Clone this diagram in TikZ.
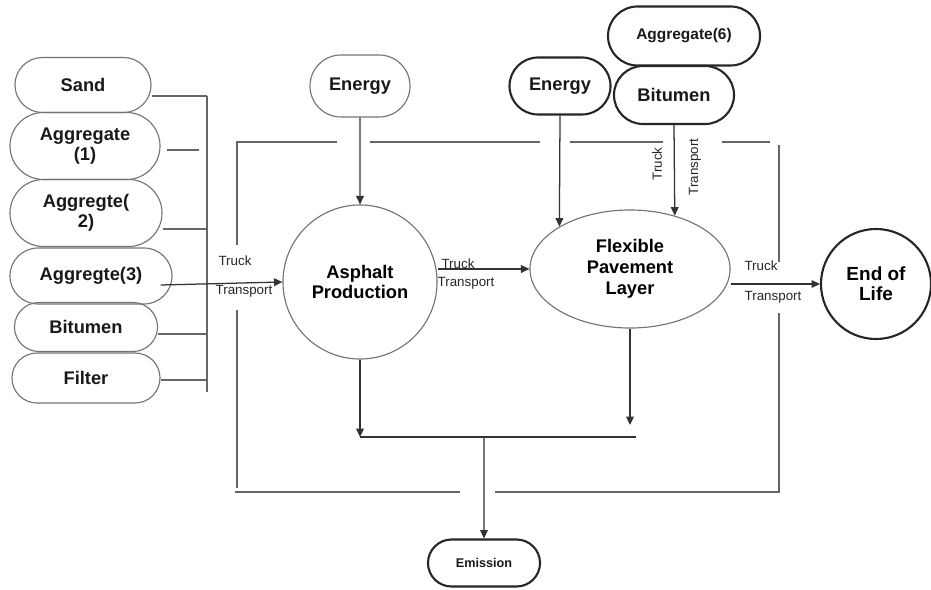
\documentclass[tikz,border=0pt]{standalone}
\usepackage{fontspec}
\setmainfont{Liberation Sans}
\usetikzlibrary{arrows.meta, shapes.misc, shapes.geometric}
\tikzset{
	pill/.style={rounded rectangle, draw=black!55, line width=0.8pt, inner sep=0pt, align=center, text=black!90, font=\bfseries\fontsize{13}{14.5}\selectfont},
	boldpill/.style={pill, draw=black!85, line width=1.5pt},
	flow/.style={draw=black!80, line width=0.9pt, -{Triangle[length=6pt,width=5.5pt]}},
	frame/.style={draw=black!60, line width=1.1pt},
	small/.style={font=\fontsize{9.5}{10}\selectfont, text=black!85, inner sep=0pt}
}
\begin{document}
\begin{tikzpicture}[x=0.025cm, y=-0.025cm]
			\useasboundingbox (0,0) rectangle (931,590);
			%raw materials
			\node (sand) at (83,85) [pill, minimum width=3.4cm, minimum height=1.375cm]{Sand};
			\node (agg1) at (85,146) [pill, minimum width=3.75cm, minimum height=1.675cm]{Aggregate\\(1)};
			\node (agg2) at (86,213) [pill, minimum width=3.8cm, minimum height=1.675cm]{Aggregte(\\2)};
			\node (agg3) at (91,276) [pill, minimum width=4.05cm, minimum height=1.4cm]{Aggregte(3)};
			\node (bitA) at (86,327) [pill, minimum width=3.575cm, minimum height=1.225cm]{Bitumen};
			\node (filt) at (86,378) [pill, minimum width=3.7cm, minimum height=1.25cm]{Filter};
			
			%collector
			\coordinate (bus) at (207,96);
			\draw[frame] (bus) -- (207,392);
			\foreach \n/\y in {sand/96, agg2/229, bitA/334, filt/380}{
				\draw[frame] (\n.east |- 0,\y) -- (bus |- 0,\y);
			}
			\draw[frame] (agg1.east |- 0,150) ++(6,0) -- ++(32,0);
			
			%inputs on top
			\node (energyA) at (360,86) [pill, minimum width=2.5cm, minimum height=1.55cm]{Energy};
			\node (energyB) at (560,86) [boldpill, minimum width=2.525cm, minimum height=1.425cm]{Energy};
			\node (aggsix) at (684,36) [boldpill, minimum width=3.8cm, minimum height=1.475cm, font=\bfseries\fontsize{11}{12}\selectfont]{Aggregate(6)};
			\node (bitB) at (674,95) [boldpill, minimum width=3cm, minimum height=1.45cm]{Bitumen};
			
			%process
			\node (asph) at (360,282) [circle, draw=black!55, line width=0.8pt, minimum size=3.85cm, inner sep=0pt, align=center, font=\bfseries\fontsize{13}{14.5}\selectfont]{Asphalt\\Production};
			\node (flex) at (630,269) [ellipse, draw=black!55, line width=0.8pt, minimum width=5cm, minimum height=2.95cm, inner sep=0pt, align=center, font=\bfseries\fontsize{13}{15}\selectfont]{Flexible\\Pavement\\Layer};
			\node (eol) at (876,284) [circle, draw=black!85, line width=1.5pt, minimum size=2.75cm, inner sep=0pt, align=center, font=\bfseries\fontsize{13.5}{14.5}\selectfont]{End of\\Life};
			\node (emis) at (484,563) [boldpill, minimum width=2.8cm, minimum height=1.175cm, font=\bfseries\fontsize{9}{10}\selectfont]{Emission};
			
			%frame
			\draw[frame] (237,245) -- (237,142) -- (337,142);
			\draw[frame] (370,142) -- (540,142);
			\draw[frame] (570,142) -- (663,142);
			\draw[frame] (722,142) -- (770,142);
			\draw[frame] (779,145) -- (779,262);
			\draw[frame] (237,310) -- (237,488);
			\draw[frame] (235,492) -- (460,492);
			\draw[frame] (495,492) -- (779,492) -- (779,313);
			
			%flows
			\draw[flow] ([shift={(-12,9)}]agg3.east) -- (asph.west);
			\draw[flow] (energyA) -- (asph);
			\draw[flow] (asph.east |- flex.west) -- (flex.west);
			\draw[flow] (energyB.south) -- (flex.149);
			\draw[flow] (bitB.south) -- (flex.50);
			\draw[flow] (flex.east |- eol.west) -- (eol.west);
			
			%emissions
			\coordinate (joinL) at (360,437);
			\coordinate (joinR) at (636,437);
			\coordinate (flexdrop) at (630,425);
			\draw[flow] (asph) -- (joinL);
			\draw[flow] (flex) -- (flexdrop);
			\draw[draw=black!80, line width=0.9pt] (joinL) -- (joinR);
			\draw[flow] (emis.north |- joinL) -- (emis);
			
			%transport labels
			\node (truckA) at (235,261) [small]{Truck};
			\node (transA) at (244,291) [small]{Transport};
			\node (truckB) at (458,264) [small]{Truck};
			\node (transB) at (466,283) [small]{Transport};
			\node (truckC) at (657,164) [small, rotate=90]{Truck};
			\node (transC) at (695,167) [small, rotate=90]{Transport};
			\node (truckD) at (761,266) [small]{Truck};
			\node (transD) at (773,297) [small]{Transport};
		\end{tikzpicture}
\end{document}
